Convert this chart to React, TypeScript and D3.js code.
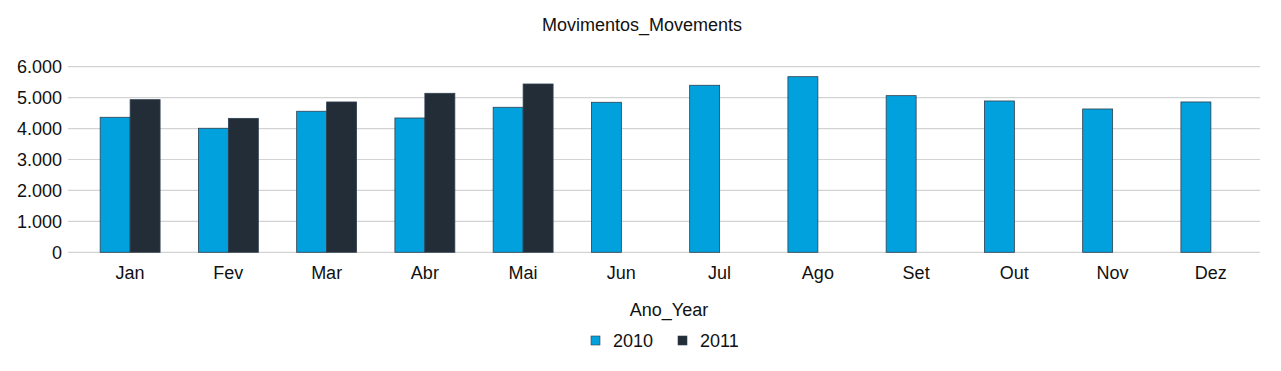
import React, { useEffect, useRef } from 'react';
import * as d3 from 'd3';

const months = ['Jan', 'Fev', 'Mar', 'Abr', 'Mai', 'Jun', 'Jul', 'Ago', 'Set', 'Out', 'Nov', 'Dez'];
const years = ['2010', '2011'];
const values2010 = [4365, 4010, 4560, 4342, 4688, 4850, 5400, 5677, 5064, 4892, 4633, 4860];
const values2011 = [4934, 4330, 4860, 5140, 5441, null, null, null, null, null, null, null];
const yTicks = [0, 1000, 2000, 3000, 4000, 5000, 6000];

const colors = ['#00a1dd', '#232d37'];
const FONT = '"Liberation Sans", Arial, sans-serif';

const App: React.FC = () => {
  const ref = useRef<SVGSVGElement>(null);

  useEffect(() => {
    const svg = d3.select(ref.current);
    svg.selectAll('*').remove();

    const width = 1281;
    const height = 371;
    const gridLeft = 68;
    const gridRight = 1260;
    const top = 66.7;
    const bottom = 252.3;

    const fmt = d3.formatLocale({ decimal: ',', thousands: '.', grouping: [3], currency: ['', ''] }).format(',d');

    const x = d3.scaleBand().domain(months).range([81, 1260]).paddingInner(0).paddingOuter(0);
    const barW = x.bandwidth() * 0.305;
    const y = d3.scaleLinear().domain([0, 6000]).range([bottom, top]);

    svg.attr('width', width).attr('height', height).style('font-family', FONT);

    // Titulo
    svg.append('text')
      .attr('x', 642)
      .attr('y', 31)
      .attr('text-anchor', 'middle')
      .attr('font-size', 18)
      .attr('fill', '#111')
      .text('Movimentos_Movements');

    // grade
    svg.append('g')
      .selectAll('line')
      .data(yTicks)
      .enter().append('line')
      .attr('x1', gridLeft)
      .attr('x2', gridRight)
      .attr('y1', d => y(d))
      .attr('y2', d => y(d))
      .attr('stroke', '#d3d3d3')
      .attr('stroke-width', 1.2);

    svg.append('g')
      .selectAll('text')
      .data(yTicks)
      .enter().append('text')
      .attr('x', 62)
      .attr('y', d => y(d))
      .attr('dy', '0.35em')
      .attr('text-anchor', 'end')
      .attr('font-size', 18)
      .attr('fill', '#111')
      .text(d => fmt(d));

    const series = [values2010, values2011];
    series.forEach((vals, si) => {
      const data = months.map((m, i) => ({ m, v: vals[i] })).filter(d => d.v !== null) as { m: string; v: number }[];
      svg.append('g')
        .selectAll('rect')
        .data(data)
        .enter().append('rect')
        .attr('x', d => x(d.m)! + x.bandwidth() / 2 - barW + si * barW)
        .attr('y', d => y(d.v))
        .attr('width', barW)
        .attr('height', d => bottom - y(d.v))
        .attr('fill', colors[si])
        .attr('stroke', '#2f4050')
        .attr('stroke-width', 0.8);
    });

    // meses
    svg.append('g')
      .selectAll('text')
      .data(months)
      .enter().append('text')
      .attr('x', d => x(d)! + x.bandwidth() / 2)
      .attr('y', 279)
      .attr('text-anchor', 'middle')
      .attr('font-size', 18)
      .attr('fill', '#111')
      .text(d => d);

    // legenda
    svg.append('text')
      .attr('x', 669)
      .attr('y', 316)
      .attr('text-anchor', 'middle')
      .attr('font-size', 18)
      .attr('fill', '#111')
      .text('Ano_Year');

    const legendX = [591, 678];
    years.forEach((yr, i) => {
      svg.append('rect')
        .attr('x', legendX[i])
        .attr('y', 336)
        .attr('width', 9)
        .attr('height', 9)
        .attr('fill', colors[i])
        .attr('stroke', '#2f4050')
        .attr('stroke-width', 0.6);
      svg.append('text')
        .attr('x', legendX[i] + 22)
        .attr('y', 346.5)
        .attr('font-size', 18)
        .attr('fill', '#111')
        .text(yr);
    });
  }, []);

  return (
    <div style={{ position: 'absolute', left: 0, top: 0, background: '#fff' }}>
      <svg ref={ref}></svg>
    </div>
  );
};

export default App;
